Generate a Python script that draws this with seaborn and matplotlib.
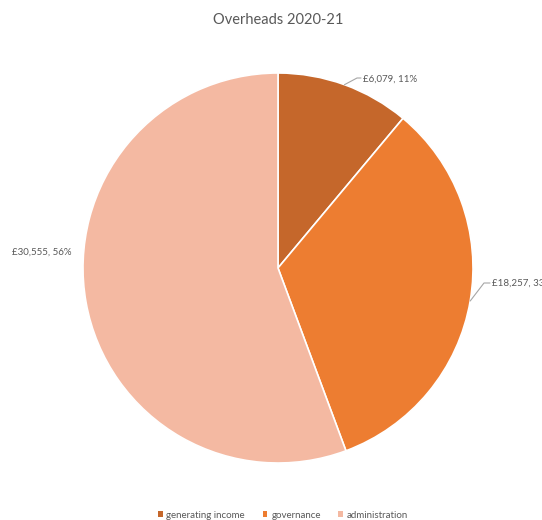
import matplotlib
matplotlib.use("Agg")
import matplotlib.pyplot as plt
import seaborn as sns
import numpy as np

categories = ["generating income", "governance", "administration"]
values = [6079, 18257, 30555]
labels = ["£6,079, 11%", "£18,257, 33%", "£30,555, 56%"]
colors = ["#C5672B", "#ED7D31", "#F4B9A2"]

sns.set_style("white")
plt.rcParams['font.family'] = ['Lato', 'DejaVu Sans']

W, H = 542, 520
fig = plt.figure(figsize=(W/100, H/100), dpi=100)
cx, cy, R = 278, 268, 195
ax = fig.add_axes([(cx-R)/W, 1-(cy+R)/H, 2*R/W, 2*R/H])
wedges, _ = ax.pie(values, colors=colors, startangle=90, counterclock=False,
                   wedgeprops=dict(edgecolor="white", linewidth=1.2), radius=1)
ax.set_xlim(-1, 1); ax.set_ylim(-1, 1)
ax.axis("off")

def d(px, py):
    return ((px-cx)/R, (cy-py)/R)

gray = "#595959"
lc = "#A6A6A6"
total = sum(values)
cum = np.cumsum([0]+values)
# label positions (pixel) and elbow points
label_pos = [(363, 79), (492, 283), (12, 252)]
elbows = [[(357, 78), (361, 78)], [(484, 283), (490, 283)], None]
for i, v in enumerate(values):
    mid = (cum[i] + v/2)/total*2*np.pi
    ex, ey = np.sin(mid), np.cos(mid)
    tx, ty = d(*label_pos[i])
    if elbows[i] is not None:
        pts = [(ex*1.0, ey*1.0)] + [d(*p) for p in elbows[i]]
        xs, ys = zip(*pts)
        ax.plot(xs, ys, color=lc, lw=0.8, clip_on=False)
    ax.text(tx, ty, labels[i], ha="left", va="center", fontsize=7, color=gray, clip_on=False)

fig.text(cx/W, 1-20/H, "Overheads 2020-21", ha="center", va="center", fontsize=10.5, color=gray)

from matplotlib.patches import Patch
handles = [Patch(facecolor=c, edgecolor="none") for c in colors]
fig.legend(handles, categories, loc="center", bbox_to_anchor=(283/W, 1-515/H), ncol=3,
           frameon=False, fontsize=7, handlelength=0.5, handleheight=0.5,
           handletextpad=0.4, columnspacing=1.8, labelcolor=gray)

fig.savefig("out.png", dpi=100)
